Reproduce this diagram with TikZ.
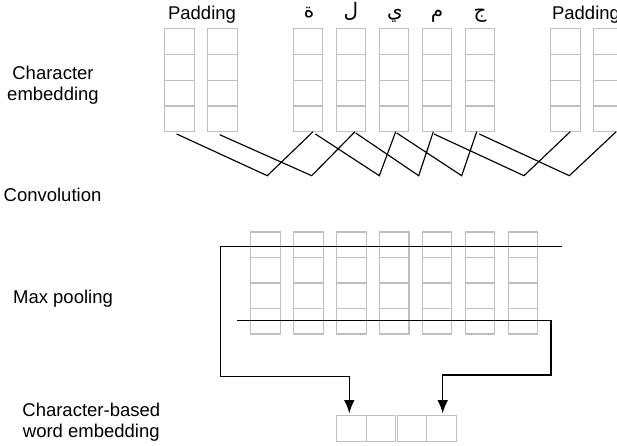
\documentclass[tikz,border=0pt]{standalone}
\usepackage{fontspec}
\setmainfont{Liberation Sans}
\newfontfamily\arabicfont[Script=Arabic]{DejaVu Sans}
\TeXXeTstate=1
\usetikzlibrary{calc,arrows.meta}

\begin{document}
\begin{tikzpicture}[x=1pt,y=-1pt,
  cellbox/.style={draw=gray!50,line width=1.1pt,minimum width=29.5pt,
    inner sep=0pt,outer sep=0pt},
  embcol/.style={cellbox,minimum height=103pt},
  poolcol/.style={cellbox,minimum height=102pt},
  wordcell/.style={cellbox,minimum height=26pt},
  cellline/.style={draw=gray!50,line width=1.1pt},
  conn/.style={draw=black,line width=1.15pt},
  arr/.style={conn,-{Latex[length=13pt,width=10.5pt]}},
  lbl/.style={inner sep=0pt,anchor=base,font=\fontsize{18.5}{22}\selectfont},
  letter/.style={inner sep=0pt,anchor=base,font=\arabicfont\fontsize{20}{24}\selectfont}]

\useasboundingbox (0,0) rectangle (617,445);

% layer labels
\node[lbl] (l1a) at (53,79.3) {Character};
\node[lbl] (l1b) at (53,100.5) {embedding};
\node[lbl] (l2) at (52.5,201.5) {Convolution};
\node[lbl] (l3) at (63,303) {Max pooling};
\node[lbl] (l4a) at (91.3,416.7) {Character-based};
\node[lbl] (l4b) at (91.3,437.3) {word embedding};

% character embedding columns
\foreach \i/\x in {1/179.5,2/222.5,3/308,4/351,5/394,6/437,7/480,8/565.5,9/608.5}{
  \node[embcol] (e\i) at (\x,80.2) {};
  \foreach \f in {0.25,0.5,0.75}
    \draw[cellline] ($(e\i.north west)!\f!(e\i.south west)$) -- ($(e\i.north east)!\f!(e\i.south east)$);
}

% padding and character labels
\node[lbl] (padl) at (202,19.3) {Padding};
\node[lbl] (padr) at (586,19.3) {Padding};
\node[letter] (ch1) at (309,17) {\beginR ة\endR};
\node[letter] (ch2) at (351,17) {\beginR ل\endR};
\node[letter] (ch3) at (395,17) {\beginR ي\endR};
\node[letter] (ch4) at (437,17) {\beginR م\endR};
\node[letter] (ch5) at (480,17) {\beginR ج\endR};

% convolution filters
\foreach \k/\x in {1/267.3,2/311.7,3/379.3,4/418.7,5/461.7,6/524,7/569.3}
  \coordinate (c\k) at (\x,175.7);
\draw[conn] ($(e1.south)+(-2.8,2.3)$) -- (c1) -- ($(e3.south)+(5,0)$);
\draw[conn] ($(e2.south)+(-2.8,3)$) -- (c2) -- ($(e4.south)+(4,0)$);
\draw[conn] ($(e3.south)+(7.4,2.3)$) -- (c3) -- ($(e5.south)+(1.7,0)$);
\draw[conn] ($(e4.south)+(4.7,1.3)$) -- (c4) -- ($(e6.south)+(-3.7,0)$);
\draw[conn] ($(e5.south)+(2.7,1.3)$) -- (c5) -- ($(e7.south)+(-3.3,0)$);
\draw[conn] ($(e6.south)+(-3,2.3)$) -- (c6) -- ($(e8.south)+(4.7,0)$);
\draw[conn] ($(e7.south)+(-0.7,2.3)$) -- (c7) -- ($(e9.south)+(7.7,0)$);

% max pooling columns
\foreach \i/\x in {1/265.5,2/308.4,3/351.3,4/394.2,5/437.1,6/480,7/522.9}{
  \node[poolcol] (p\i) at (\x,283) {};
  \foreach \f in {0.25,0.5,0.75}
    \draw[cellline] ($(p\i.north west)!\f!(p\i.south west)$) -- ($(p\i.north east)!\f!(p\i.south east)$);
}

% character-based word embedding
\node[wordcell] (w1) at (351.3,428.7) {};
\node[wordcell] (w2) at (380.8,428.7) {};
\node[wordcell] (w3) at (412,428.7) {};
\node[wordcell] (w4) at (441.3,428.7) {};

% pooled features routed into the word embedding
\coordinate (t1) at (562.3,246.3);
\coordinate (t2) at (220.7,246.3);
\coordinate (b1) at (237.3,320.3);
\coordinate (b2) at (551,320.3);
\draw[arr] (t1) -- (t2) |- ($(w1.north)+(-2,-39)$) -- ($(w1.north)+(-2,-2.5)$);
\draw[arr] (b1) -- (b2) |- ($(w4.north)+(1.4,-40.7)$) -- ($(w4.north)+(1.4,-2.5)$);

\end{tikzpicture}
\end{document}
